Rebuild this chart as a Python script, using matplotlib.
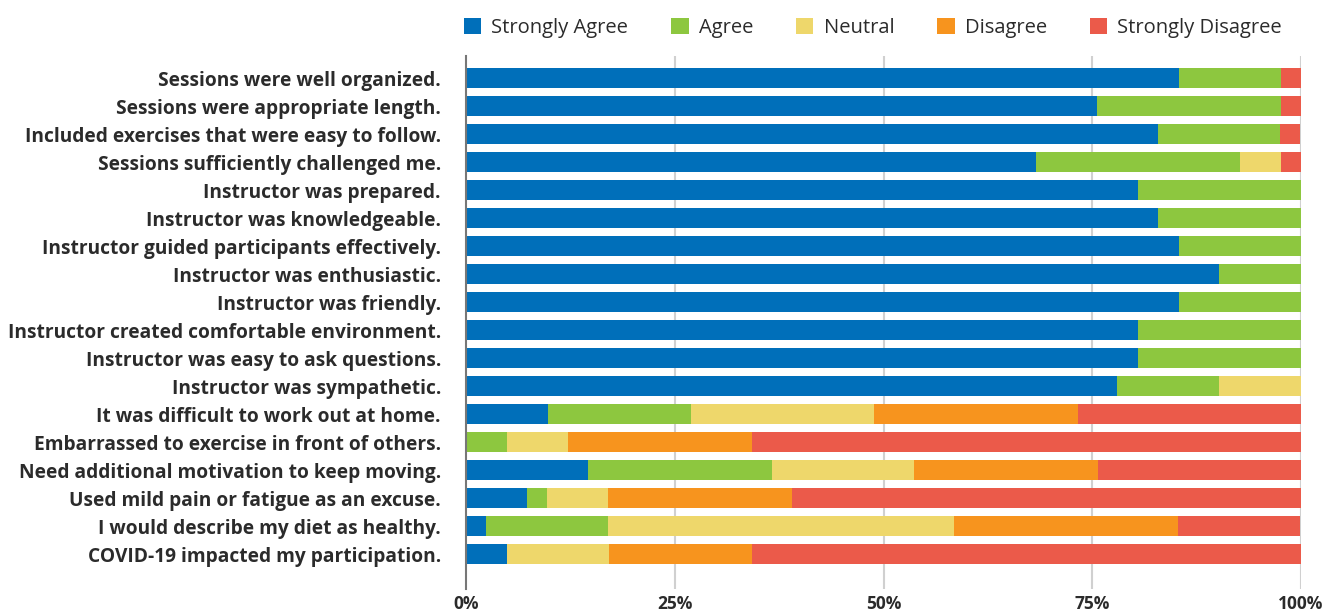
import matplotlib
matplotlib.use("Agg")
import matplotlib.pyplot as plt
import numpy as np

categories = [
    "Sessions were well organized.",
    "Sessions were appropriate length.",
    "Included exercises that were easy to follow.",
    "Sessions sufficiently challenged me.",
    "Instructor was prepared.",
    "Instructor was knowledgeable.",
    "Instructor guided participants effectively.",
    "Instructor was enthusiastic.",
    "Instructor was friendly.",
    "Instructor created comfortable environment.",
    "Instructor was easy to ask questions.",
    "Instructor was sympathetic.",
    "It was difficult to work out at home.",
    "Embarrassed to exercise in front of others.",
    "Need additional motivation to keep moving.",
    "Used mild pain or fatigue as an excuse.",
    "I would describe my diet as healthy.",
    "COVID-19 impacted my participation.",
]

strongly_agree = [85.4, 75.6, 82.9, 68.3, 80.5, 82.9, 85.4, 90.2, 85.4, 80.5, 80.5, 78.0, 9.8, 0.0, 14.6, 7.3, 2.4, 4.9]
agree          = [12.2, 22.0, 14.6, 24.4, 19.5, 17.1, 14.6, 9.8, 14.6, 19.5, 19.5, 12.2, 17.1, 4.9, 22.0, 2.4, 14.6, 0.0]
neutral        = [0.0, 0.0, 0.0, 4.9, 0.0, 0.0, 0.0, 0.0, 0.0, 0.0, 0.0, 9.8, 22.0, 7.3, 17.1, 7.3, 41.5, 12.2]
disagree       = [0.0, 0.0, 0.0, 0.0, 0.0, 0.0, 0.0, 0.0, 0.0, 0.0, 0.0, 0.0, 24.4, 22.0, 22.0, 22.0, 26.8, 17.1]
strongly_dis   = [2.4, 2.4, 2.4, 2.4, 0.0, 0.0, 0.0, 0.0, 0.0, 0.0, 0.0, 0.0, 26.8, 65.9, 24.4, 61.0, 14.6, 65.9]

series_names = ["Strongly Agree", "Agree", "Neutral", "Disagree", "Strongly Disagree"]
colors = ["#006FBA", "#8DC73F", "#EED76B", "#F7941E", "#EB5A4A"]
tick_values = [0, 25, 50, 75, 100]
tick_labels = ["0%", "25%", "50%", "75%", "100%"]

plt.rcParams['font.family'] = ['Open Sans', 'DejaVu Sans']

fig = plt.figure(figsize=(13.26, 6.14), dpi=100)
ax = fig.add_axes([466/1326, 1-589/614, (1301-466)/1326, (589-56)/614])

series = [strongly_agree, agree, neutral, disagree, strongly_dis]
y = np.arange(len(categories))
left = np.zeros(len(categories))
handles = []
for name, vals, c in zip(series_names, series, colors):
    vals = np.array(vals)
    h = ax.barh(y, vals, left=left, height=0.714, color=c, label=name, zorder=3)
    handles.append(h)
    left = left + vals

ax.set_xlim(0, 100)
ax.set_ylim(len(categories) - 1 + 1.25, -0.786)
ax.set_yticks(y)
ax.set_yticklabels(categories, fontsize=13.8, fontweight='bold', color='#2b2b2b')
ax.set_xticks(tick_values)
ax.set_xticklabels(tick_labels, fontsize=12.5, fontweight='bold', color='#2b2b2b')
ax.tick_params(axis='y', length=0, pad=18)
ax.tick_params(axis='x', length=0, pad=4)
for s in ['top', 'right', 'bottom']:
    ax.spines[s].set_visible(False)
ax.spines['left'].set_color('#777777')
ax.spines['left'].set_linewidth(1.5)
ax.spines['left'].set_zorder(4)
for v in tick_values[1:]:
    ax.axvline(v, color='#d0d0d0', lw=1.5, zorder=1)

leg = fig.legend(handles=handles, labels=series_names, loc='upper center',
                 bbox_to_anchor=(873/1326, 1.0), ncol=5, frameon=False,
                 fontsize=14.5, handlelength=0.85, handleheight=0.85,
                 columnspacing=2.15, handletextpad=0.5)
for t in leg.get_texts():
    t.set_color('#2b2b2b')

fig.savefig("out.png", dpi=100)
